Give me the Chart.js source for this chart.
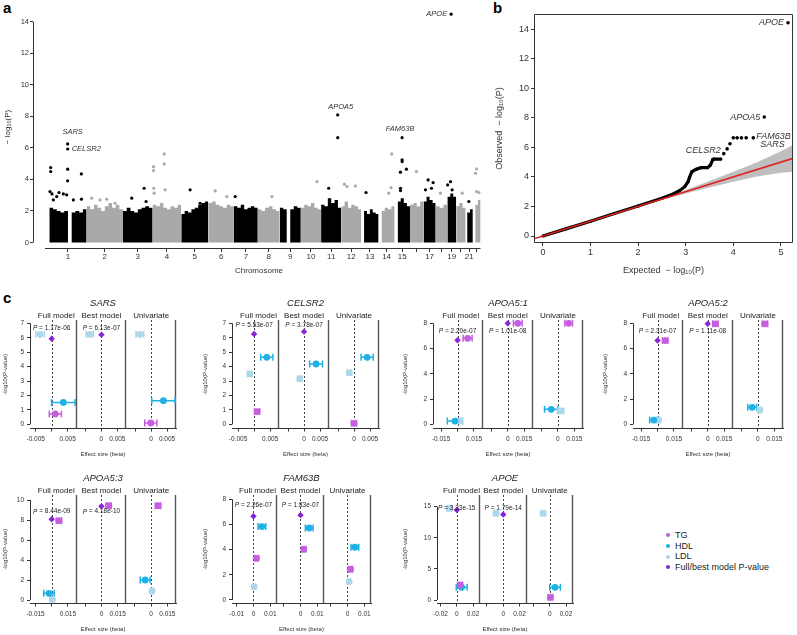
<!DOCTYPE html>
<html><head><meta charset="utf-8">
<script src="https://cdn.jsdelivr.net/npm/chart.js@4.4.1/dist/chart.umd.min.js"></script>
<style>
html,body{margin:0;padding:0;background:#fff;}
#wrap{position:relative;width:797px;height:635px;overflow:hidden;background:#fff;font-family:"Liberation Sans",Arial,sans-serif;}
canvas{position:absolute;}
.plab{position:absolute;font-weight:bold;font-size:15px;line-height:15px;color:#000;}
#legend{position:absolute;left:664px;top:530px;font-size:9px;color:#222;}
#legend div{height:10.7px;line-height:10.7px;white-space:nowrap;}
#legend span{display:inline-block;width:4px;height:4px;border-radius:50%;margin:0 5px 1px 2px;vertical-align:middle;}
</style></head>
<body><div id="wrap">
<div class="plab" style="left:3px;top:0px;">a</div>
<div class="plab" style="left:493px;top:0px;">b</div>
<div class="plab" style="left:3px;top:290px;">c</div>
<div id="legend">
 <div><span style="background:#c55fdf"></span>TG</div>
 <div><span style="background:#1db1e6"></span>HDL</div>
 <div><span style="background:#acd8ea"></span>LDL</div>
 <div><span style="background:#8a22d6"></span>Full/best model P-value</div>
</div>
</div>
<script>
// ================= DATA =================
// ---- Panel a: Manhattan plot ----
const chromLengths = [249.25,243.20,198.02,191.15,180.92,171.12,159.14,146.36,141.21,135.53,135.01,133.85,115.17,107.35,102.53,90.35,81.20,78.08,59.13,63.03,48.13,51.30];
const chromTickLabels = ['1','2','3','4','5','6','7','8','9','10','11','12','13','14','15','','17','','19','','21',''];
const bandStarts = [0,0,0,0,0,0,0,0,0,0,0,0,18,19,20,0,0,0,0,0,10,16];
const bandProfiles = [
 [2.2,2.1,2.0,1.9,2.0,0,1.9,2.0,1.9,2.1],
 [2.3,2.1,2.4,2.2,2.0,2.3,2.5,2.2,2.4,2.1],
 [2.0,2.2,2.0,1.9,2.1,2.2,2.3,2.2],
 [2.4,2.3,2.5,2.2,2.1,2.3,2.2,2.4],
 [1.8,2.0,1.9,2.1,2.2,2.4,2.5,2.6],
 [2.5,2.6,2.4,2.3,2.2,2.4,2.3],
 [2.3,2.2,2.4,2.1,2.2,2.3,2.2],
 [2.1,2.0,2.2,2.3,2.1,2.0],
 [2.2,2.1,0,2.1,2.3,2.2],
 [2.2,2.4,2.3,2.5,2.2,2.1],
 [2.4,2.3,2.8,2.5,2.7,2.2],
 [2.3,2.6,2.2,2.4,2.3,2.1],
 [2.0,1.8,2.1,1.9,1.8],
 [2.0,2.2,2.1,2.3],
 [2.6,2.8,2.5,2.3],
 [2.4,2.5,2.3,2.6],
 [2.6,2.9,2.7,2.5],
 [2.3,2.2,2.4],
 [2.9,3.1,2.9],
 [2.3,2.5,2.2],
 [1.9,2.1],
 [2.4,2.7]
];
const hitChrom = [1,1,1,1,1,1,1,1,1,1,1,1,1,1,1,1, 2,2,2,2, 3,3,3, 4,4,4,4,4,4,4, 5,5, 6,6, 7, 8, 10, 11,11,11, 12,12,12, 13, 14,14,14, 15,15,15,15,15,15,15, 16, 17,17,17,17, 18, 19,19,19,19, 20, 21, 22,22,22,22];
const hitPos   = [8.9,9.5,4.5,17.8,26.8,49.1,64.7,93.7,116,122.6,122.8,122.6,122.6,160.6,214,215, 33.9,89.6,134,190, 58.4,141,154, 5.4,6,7,9.8,76.7,77.5,83.4, 59.3,126, 45.7,123.8, 8.3, 94.5, 107.9, 50.6,110.8,111.2, 20.3,38.1,93.9, 31.4, 87.9,83.4,67.8, 49.7,49.9,50.2,38.6,78.7,38.9,39.2, 43, 30.8,64.2,53.1,12.9, 32, 25.4,21,2,32, 40, 21.4, 24.8,18,25.5,40.4];
const hitLogP  = [4.75,4.50,3.23,3.08,2.70,2.91,3.17,3.08,3.02,6.25,5.93,4.65,3.91,2.70,4.35,2.75, 2.81,2.70,2.75,2.49, 2.81,3.44,2.60, 4.81,4.56,3.44,3.13,5.62,4.98,3.34, 3.34,2.49, 3.27,2.91, 2.91, 2.91, 3.86, 3.44,8.09,6.65, 3.70,3.55,3.59, 3.17, 5.62,3.48,3.13, 6.65,5.24,5.13,4.46,4.65,3.44,3.29, 4.50, 3.97,3.80,3.44,3.34, 3.13, 14.48,3.86,3.65,3.34, 3.13, 2.60, 4.67,4.39,3.23,3.17];
const hitGene  = ['','','','','','','','','','SARS','CELSR2','','','','','', '','','','', '','','', '','','','','','','', '','', '','', '', '', '', '','APOA5','', '','','', '', '','','', 'FAM63B','','','','','','', '', '','','','', '', 'APOE','','','', '', '', '','','',''];
const manhattanYTicks = [0,2,4,6,8,10,12,14];

// ---- Panel b: QQ plot ----
const qqDenseExpected = [0,0.5,1,1.5,2,2.5,2.7,2.87,2.98,3.05,3.08,3.13,3.22,3.32,3.46,3.52,3.57,3.6,3.74];
const qqDenseObserved = [0,0.5,1,1.52,2.03,2.55,2.8,3.07,3.34,3.68,3.97,4.36,4.52,4.63,4.63,4.81,5.19,5.21,5.21];
const qqTopExpected = [3.80,3.87,3.93,4.0,4.08,4.17,4.27,4.42,4.65,5.15];
const qqTopObserved = [5.58,5.9,6.25,6.65,6.65,6.65,6.65,6.65,8.06,14.45];
const qqLabelText  = ['CELSR2','SARS','FAM63B','APOA5','APOE'];
const qqLabelPoint = [0,7,7,8,9];
const qqBandX    = [2.5,3.0,3.5,4.0,4.5,5.0,5.3];
const qqBandLow  = [2.45,2.88,3.28,3.68,4.03,4.28,4.36];
const qqBandHigh = [2.56,3.12,3.72,4.35,5.0,5.75,6.25];
const qqNullLine = [-0.2,5.3];
const qqXTicks = [0,1,2,3,4,5];
const qqYTicks = [0,2,4,6,8,10,12,14];

// ---- Panel c: per-locus effect sizes ----
// rows: [model, trait, beta, CI half-width, -log10(P)]
const sarsRows = [
 ['full','LDL',-0.00365,0.00135,6.24],['full','HDL',0.00365,0.0037,1.52],['full','TG',0.00115,0.0019,0.72],
 ['best','LDL',-0.00365,0.00115,6.24],
 ['uni','LDL',-0.00354,0.0012,6.24],['uni','HDL',0.00385,0.00365,1.64],['uni','TG',-0.0001,0.0019,0.09]];
const celsr2Rows = [
 ['full','HDL',0.00396,0.0019,4.64],['full','LDL',-0.00135,0.0007,3.49],['full','TG',0.00094,0.0008,0.88],
 ['best','HDL',0.00375,0.002,4.18],['best','LDL',-0.00135,0.0007,3.16],
 ['uni','HDL',0.0041,0.0019,4.64],['uni','LDL',-0.00146,0.0007,3.58],['uni','TG',0,0.0008,0.07]];
const apoa5aRows = [
 ['full','TG',0.0092,0.0041,6.81],['full','HDL',-0.0024,0.0069,0.26],['full','LDL',0.0015,0.003,0.26],
 ['best','TG',0.0092,0.004,8.0],
 ['uni','TG',0.0098,0.0035,8.0],['uni','HDL',-0.0061,0.0061,1.19],['uni','LDL',0.0024,0.003,1.06]];
const apoa5bRows = [
 ['full','TG',0.007,0.0025,6.63],['full','HDL',-0.0034,0.0038,0.34],['full','LDL',0.0009,0.002,0.34],
 ['best','TG',0.007,0.0025,7.96],
 ['uni','TG',0.0064,0.0025,7.96],['uni','HDL',-0.0052,0.004,1.35],['uni','LDL',0.0018,0.0015,1.14]];
const apoa5cRows = [
 ['full','TG',0.0067,0.0025,7.93],['full','HDL',-0.0025,0.0049,0.67],['full','LDL',0.0006,0.002,0.07],
 ['best','TG',0.0067,0.0025,9.43],
 ['uni','TG',0.0064,0.0025,9.43],['uni','HDL',-0.0055,0.0046,2.0],['uni','LDL',0.0009,0.0015,0.9]];
const fam63bRows = [
 ['full','HDL',0.005,0.0023,5.83],['full','TG',0.0018,0.0012,3.31],['full','LDL',0.0004,0.001,1.06],
 ['best','HDL',0.0052,0.0023,5.72],['best','TG',0.002,0.0012,4.03],
 ['uni','HDL',0.0044,0.0023,4.19],['uni','TG',0.0018,0.0012,2.44],['uni','LDL',0.001,0.0008,1.46]];
const apoeRows = [
 ['full','LDL',-0.009,0.003,14.73],['full','TG',0.0041,0.003,2.41],['full','HDL',0.0061,0.0067,2.04],
 ['best','LDL',-0.009,0.003,13.93],
 ['uni','LDL',-0.0082,0.003,13.93],['uni','HDL',0.0065,0.0065,2.04],['uni','TG',0.0008,0.003,0.43]];
const geneNames = ['SARS','CELSR2','APOA5:1','APOA5:2','APOA5:3','FAM63B','APOE'];
const geneRows  = [sarsRows,celsr2Rows,apoa5aRows,apoa5bRows,apoa5cRows,fam63bRows,apoeRows];
const pFullText = ['1.17e-06','5.53e-07','2.20e-07','2.31e-07','8.44e-09','2.26e-07','3.33e-15'];
const pBestText = ['6.13e-07','3.78e-07','1.01e-08','1.11e-08','4.18e-10','1.83e-07','1.79e-14'];
const pLabelY   = [6.65,6.88,7.34,7.34,8.83,7.52,14.73];
const betaTickStep = [0.005,0.005,0.015,0.015,0.015,0.01,0.02];
const zeroLabelFull = [false,false,false,false,false,true,true];
const yTickStep = [1,1,2,2,2,2,5];
const yTickTop  = [7,7,8,8,10,8,15];
const modelNames = ['Full model','Best model','Univariate'];

// ================= STYLE / LAYOUT =================
const FONT = '"Liberation Sans", Arial, Helvetica, sans-serif';
const TRAIT_COLOR = {TG:'#c55fdf', HDL:'#1db1e6', LDL:'#acd8ea'};
const P_COLOR = '#8a22d6';
// axis ranges per locus panel (half-width of best/univariate panels, left limit of full panel, y limits)
const forestAxes = [
 {L:0.0078, fullMin:-0.0068, yMin:-0.29, yMax:7.23},
 {L:0.0078, fullMin:-0.0069, yMin:-0.29, yMax:7.23},
 {L:0.0229, fullMin:-0.0224, yMin:-0.33, yMax:8.26},
 {L:0.0229, fullMin:-0.0224, yMin:-0.33, yMax:8.26},
 {L:0.0230, fullMin:-0.0201, yMin:-0.35, yMax:10.5},
 {L:0.0140, fullMin:-0.0128, yMin:-0.28, yMax:8.34},
 {L:0.0286, fullMin:-0.0243, yMin:-0.56, yMax:16.88}
];
const forestLayout = [
 {left:0,top:285,width:180,yAxisW:30},
 {left:200,top:285,width:183,yAxisW:32},
 {left:400,top:285,width:187,yAxisW:33},
 {left:600,top:285,width:187,yAxisW:33},
 {left:0,top:460,width:180,yAxisW:30},
 {left:200,top:460,width:175,yAxisW:32},
 {left:400,top:460,width:177,yAxisW:37}
];
const manhattanLabelStyle = {
 SARS:{dx:5,dy:-12,align:'center'}, CELSR2:{dx:4,dy:0,align:'left'},
 APOA5:{dx:3,dy:-8,align:'center'}, FAM63B:{dx:-2,dy:-9,align:'center'}, APOE:{dx:-4,dy:0,align:'right'}
};
const qqLabelStyle = [
 {dx:-3,dy:-3,align:'right'}, {dx:7,dy:6.5,align:'left'}, {dx:3,dy:-1,align:'left'},
 {dx:-4,dy:0,align:'right'}, {dx:-4,dy:0,align:'right'}
];

Chart.defaults.font.family = FONT;
Chart.defaults.color = '#333';
Chart.defaults.animation = false;
Chart.defaults.events = [];
Chart.defaults.plugins.legend.display = false;
Chart.defaults.plugins.tooltip.enabled = false;

// ================= PLUGINS =================
const rAxes = {
  id:'rAxes',
  afterDraw(chart, args, o) {
    if (!o || !o.enabled) return;
    const {ctx, chartArea:a, scales} = chart;
    const x = scales.x, y = scales.y;
    ctx.save();
    ctx.strokeStyle = '#333'; ctx.lineWidth = 1;
    ctx.beginPath();
    if (o.box) ctx.rect(Math.round(a.left)+0.5, Math.round(a.top)+0.5, Math.round(a.right-a.left)-1, Math.round(a.bottom-a.top)-1);
    if (o.yLine) { const px = Math.round(a.left)+0.5; ctx.moveTo(px, y.getPixelForValue(o.yLine[0])); ctx.lineTo(px, y.getPixelForValue(o.yLine[1])); }
    if (o.xLine) { const py = Math.round(a.bottom)+0.5; ctx.moveTo(x.getPixelForValue(o.xLine[0]), py); ctx.lineTo(x.getPixelForValue(o.xLine[1]), py); }
    ctx.stroke();
    ctx.restore();
  }
};
const ptLabels = {
  id:'ptLabels',
  afterDatasetsDraw(chart, args, o) {
    if (!o || !o.items) return;
    const {ctx, scales:{x,y}} = chart;
    ctx.save();
    o.items.forEach(it => {
      ctx.font = it.fnt; ctx.fillStyle = '#333'; ctx.textAlign = it.align; ctx.textBaseline = 'middle';
      ctx.fillText(it.text, x.getPixelForValue(it.x)+it.dx, y.getPixelForValue(it.y)+it.dy);
    });
    ctx.restore();
  }
};
const forest = {
  id:'forest',
  beforeDatasetsDraw(chart, args, o) {
    if (!o || !o.L) return;
    const {ctx, chartArea:a, scales:{x,y}} = chart;
    const L = o.L;
    ctx.save();
    ctx.strokeStyle = '#555'; ctx.lineWidth = 1.4;
    [L,3*L,5*L].forEach(v => { const px = Math.round(x.getPixelForValue(v)) - 0.5; ctx.beginPath(); ctx.moveTo(px,a.top); ctx.lineTo(px,a.bottom); ctx.stroke(); });
    ctx.setLineDash([2,2]); ctx.lineWidth = 1; ctx.strokeStyle = '#444';
    [0,2*L,4*L].forEach(v => { const px = Math.round(x.getPixelForValue(v)) + 0.5; ctx.beginPath(); ctx.moveTo(px,a.top); ctx.lineTo(px,a.bottom); ctx.stroke(); });
    ctx.setLineDash([]);
    ctx.lineWidth = 1.5;
    chart.data.datasets.forEach(ds => {
      ds.data.forEach(p => {
        if (p.xMin === undefined) return;
        const x0 = x.getPixelForValue(p.xMin), x1 = x.getPixelForValue(p.xMax), py = y.getPixelForValue(p.y);
        ctx.strokeStyle = ds.backgroundColor;
        ctx.beginPath();
        ctx.moveTo(x0,py); ctx.lineTo(x1,py);
        ctx.moveTo(x0,py-3.5); ctx.lineTo(x0,py+3.5);
        ctx.moveTo(x1,py-3.5); ctx.lineTo(x1,py+3.5);
        ctx.stroke();
      });
    });
    ctx.restore();
  },
  afterDraw(chart, args, o) {
    if (!o || !o.L) return;
    const {ctx, chartArea:a, scales:{x,y}} = chart;
    const L = o.L;
    ctx.save();
    ctx.fillStyle = '#222'; ctx.textBaseline = 'middle'; ctx.textAlign = 'center';
    ctx.font = 'italic 9.5px ' + FONT;
    ctx.fillText(o.name, (a.left+a.right)/2, a.top - 17);
    ctx.font = '8px ' + FONT;
    const hx = [(x.getPixelForValue(o.fullMin)+x.getPixelForValue(L))/2 + 3, x.getPixelForValue(2*L), x.getPixelForValue(4*L)];
    o.models.forEach((m,i) => ctx.fillText(m, hx[i], a.top - 4));
    const drawP = (cx, cy, txt) => {
      ctx.font = 'italic 6.5px ' + FONT; const w1 = ctx.measureText('P').width;
      ctx.font = '6.5px ' + FONT; const rest = ' = ' + txt; const w2 = ctx.measureText(rest).width;
      const x0 = cx - (w1+w2)/2;
      ctx.textAlign = 'left';
      ctx.font = 'italic 6.5px ' + FONT; ctx.fillText('P', x0, cy);
      ctx.font = '6.5px ' + FONT; ctx.fillText(rest, x0+w1, cy);
    };
    const py = y.getPixelForValue(o.pY);
    drawP(x.getPixelForValue(0), py, o.pFull);
    drawP(x.getPixelForValue(2*L), py, o.pBest);
    ctx.restore();
  }
};
Chart.register(rAxes, ptLabels, forest);

function makeCanvas(left, top, w, h) {
  const c = document.createElement('canvas');
  c.width = w; c.height = h;
  c.style.left = left + 'px'; c.style.top = top + 'px';
  c.style.width = w + 'px'; c.style.height = h + 'px';
  document.getElementById('wrap').appendChild(c);
  return c;
}

// ================= PANEL A =================
(function(){
  const cumStart = []; let acc = 0;
  chromLengths.forEach(l => { cumStart.push(acc); acc += l; });
  const genomeEnd = acc;
  const bandDatasets = chromLengths.map((len, ci) => {
    const prof = bandProfiles[ci], st = bandStarts[ci], w = (len - st) / prof.length;
    const pts = [];
    prof.forEach((h,k) => { pts.push({x:cumStart[ci]+st+k*w, y:h}); pts.push({x:cumStart[ci]+st+(k+1)*w, y:h}); });
    return {type:'line', data:pts, borderWidth:0, borderColor:'rgba(0,0,0,0)', pointRadius:0, fill:'origin',
            backgroundColor: ci % 2 === 0 ? '#000' : '#a9a9a9', tension:0};
  });
  const oddPts = [], evenPts = [], labelItems = [];
  hitChrom.forEach((c,i) => {
    const p = {x: cumStart[c-1] + hitPos[i], y: hitLogP[i]};
    (c % 2 === 1 ? oddPts : evenPts).push(p);
    if (hitGene[i]) {
      const s = manhattanLabelStyle[hitGene[i]];
      labelItems.push({x:p.x, y:p.y, text:hitGene[i], dx:s.dx, dy:s.dy, align:s.align, fnt:'italic 7.5px ' + FONT});
    }
  });
  const centers = chromLengths.map((l,i) => cumStart[i] + l/2);
  new Chart(makeCanvas(0,0,490,280), {
    type:'scatter',
    data:{datasets:[
      {data:oddPts, pointRadius:1.6, backgroundColor:'#000', borderWidth:0},
      {data:evenPts, pointRadius:1.6, backgroundColor:'#a9a9a9', borderWidth:0},
      ...bandDatasets
    ]},
    options:{
      responsive:false, devicePixelRatio:1,
      layout:{padding:{top:6,right:5,left:0,bottom:0}},
      scales:{
        x:{type:'linear', min:-109, max:2911,
           afterBuildTicks:s => { s.ticks = centers.map(v => ({value:v})); },
           afterFit:s => { s.height = 32; },
           ticks:{autoSkip:false, maxRotation:0, padding:0, font:{size:8}, color:'#333', callback:(v,i) => chromTickLabels[i]},
           grid:{display:true, drawOnChartArea:false, drawTicks:true, tickLength:4, color:'#333'},
           border:{display:false},
           title:{display:true, text:'Chromosome', font:{size:8}, color:'#333', padding:{top:0,bottom:4.2}}},
        y:{type:'linear', min:-0.35, max:15,
           afterBuildTicks:s => { s.ticks = manhattanYTicks.map(v => ({value:v})); },
           afterFit:s => { s.width = 33; },
           ticks:{padding:1, font:{size:7.5}, color:'#333'},
           grid:{display:true, drawOnChartArea:false, drawTicks:true, tickLength:3, color:'#333'},
           border:{display:false},
           title:{display:true, text:'\u2212 log\u2081\u2080(P)', font:{size:8}, color:'#333', padding:{top:3,bottom:0}}}
      },
      plugins:{ rAxes:{enabled:true, yLine:[0,14], xLine:[-29, genomeEnd]}, ptLabels:{items:labelItems} }
    }
  });
})();

// ================= PANEL B =================
(function(){
  const dense = qqDenseExpected.map((e,i) => ({x:e, y:qqDenseObserved[i]}));
  const top = qqTopExpected.map((e,i) => ({x:e, y:qqTopObserved[i]}));
  const low = qqBandX.map((e,i) => ({x:e, y:qqBandLow[i]}));
  const high = qqBandX.map((e,i) => ({x:e, y:qqBandHigh[i]}));
  const nullLine = qqNullLine.map(v => ({x:v, y:v}));
  const items = qqLabelText.map((t,i) => {
    const p = top[qqLabelPoint[i]], s = qqLabelStyle[i];
    return {x:p.x, y:p.y, text:t, dx:s.dx, dy:s.dy, align:s.align, fnt:'italic 9px ' + FONT};
  });
  new Chart(makeCanvas(490,0,307,282), {
    type:'scatter',
    data:{datasets:[
      {type:'line', data:nullLine, borderColor:'#e3201c', borderWidth:1.6, pointRadius:0, fill:false},
      {data:top, pointRadius:1.8, backgroundColor:'#000', borderWidth:0},
      {type:'line', data:dense, borderColor:'#000', borderWidth:3.2, pointRadius:1.6, pointBackgroundColor:'#000', pointBorderWidth:0, fill:false, tension:0},
      {type:'line', data:high, borderWidth:0, borderColor:'rgba(0,0,0,0)', pointRadius:0, fill:'+1', backgroundColor:'rgba(180,180,180,0.85)'},
      {type:'line', data:low, borderWidth:0, borderColor:'rgba(0,0,0,0)', pointRadius:0, fill:false}
    ]},
    options:{
      responsive:false, devicePixelRatio:1,
      layout:{padding:{top:14,right:1,left:0,bottom:0}},
      scales:{
        x:{type:'linear', min:-0.187, max:5.254,
           afterBuildTicks:s => { s.ticks = qqXTicks.map(v => ({value:v})); },
           afterFit:s => { s.height = 39; },
           ticks:{autoSkip:false, maxRotation:0, padding:1, font:{size:9}, color:'#333'},
           grid:{display:true, drawOnChartArea:false, drawTicks:true, tickLength:3, color:'#333'},
           border:{display:false},
           title:{display:true, text:'Expected  \u2212 log\u2081\u2080(P)', font:{size:9}, color:'#333', padding:{top:0,bottom:5.6}}},
        y:{type:'linear', min:-0.474, max:15.04,
           afterBuildTicks:s => { s.ticks = qqYTicks.map(v => ({value:v})); },
           afterFit:s => { s.width = 44; },
           ticks:{padding:2, font:{size:9}, color:'#333'},
           grid:{display:true, drawOnChartArea:false, drawTicks:true, tickLength:3, color:'#333'},
           border:{display:false},
           title:{display:true, text:'Observed  \u2212 log\u2081\u2080(P)', font:{size:9}, color:'#333', padding:{top:4,bottom:0}}}
      },
      plugins:{ rAxes:{enabled:true, box:true}, ptLabels:{items:items} }
    }
  });
})();

// ================= PANEL C =================
geneNames.forEach((name, gi) => {
  const ax = forestAxes[gi], lay = forestLayout[gi];
  const L = ax.L, s = betaTickStep[gi];
  const offsets = {full:0, best:2*L, uni:4*L};
  const tickVals = [-s,0,s, 2*L-s,2*L,2*L+s, 4*L-s,4*L,4*L+s];
  const tickLbls = [String(-s), zeroLabelFull[gi] ? '0' : '', String(s), '', '0', String(s), '', '0', String(s)];
  const yTicks = []; for (let v = 0; v <= yTickTop[gi] + 1e-9; v += yTickStep[gi]) yTicks.push(v);
  const byTrait = {TG:[], HDL:[], LDL:[]};
  geneRows[gi].forEach(r => {
    const off = offsets[r[0]];
    byTrait[r[1]].push({x:r[2]+off, y:r[4], xMin:r[2]-r[3]+off, xMax:r[2]+r[3]+off});
  });
  const pPts = [{x:0, y:-Math.log10(parseFloat(pFullText[gi]))}, {x:2*L, y:-Math.log10(parseFloat(pBestText[gi]))}];
  const datasets = [
    {data:pPts, pointStyle:'rectRot', pointRadius:3.2, backgroundColor:P_COLOR, borderWidth:0},
    {data:byTrait.TG, pointRadius:3.4, backgroundColor:TRAIT_COLOR.TG, borderWidth:0},
    {data:byTrait.HDL, pointRadius:3.4, backgroundColor:TRAIT_COLOR.HDL, borderWidth:0},
    {data:byTrait.LDL, pointRadius:3.4, backgroundColor:TRAIT_COLOR.LDL, borderWidth:0}
  ];
  new Chart(makeCanvas(lay.left, lay.top, lay.width, 175), {
    type:'scatter',
    data:{datasets},
    options:{
      responsive:false, devicePixelRatio:1,
      layout:{padding:{top:35,right:4,left:0,bottom:0}},
      scales:{
        x:{type:'linear', min:ax.fullMin, max:5*L,
           afterBuildTicks:sc => { sc.ticks = tickVals.map(v => ({value:v})); },
           afterFit:sc => { sc.height = 31.5; },
           ticks:{autoSkip:false, maxRotation:0, padding:4, font:{size:6.5}, color:'#333', callback:(v,i) => tickLbls[i]},
           grid:{display:true, drawOnChartArea:false, drawTicks:true, tickLength:3, color:'#333'},
           border:{display:true, color:'#333', width:1},
           title:{display:true, text:'Effect size (beta)', font:{size:6}, color:'#333', padding:{top:0,bottom:2.4}}},
        y:{type:'linear', min:ax.yMin, max:ax.yMax,
           afterBuildTicks:sc => { sc.ticks = yTicks.map(v => ({value:v})); },
           afterFit:sc => { sc.width = lay.yAxisW; },
           ticks:{padding:3, font:{size:6.5}, color:'#333'},
           grid:{display:true, drawOnChartArea:false, drawTicks:true, tickLength:3, color:'#333'},
           border:{display:false},
           title:{display:true, text:'-log10(P-value)', font:{size:6}, color:'#333', padding:{top:2,bottom:0}}}
      },
      plugins:{
        rAxes:{enabled:true, yLine:[0, yTickTop[gi]]},
        forest:{L:L, fullMin:ax.fullMin, name:name, models:modelNames, pFull:pFullText[gi], pBest:pBestText[gi], pY:pLabelY[gi]}
      }
    }
  });
});
</script>
</body></html>
